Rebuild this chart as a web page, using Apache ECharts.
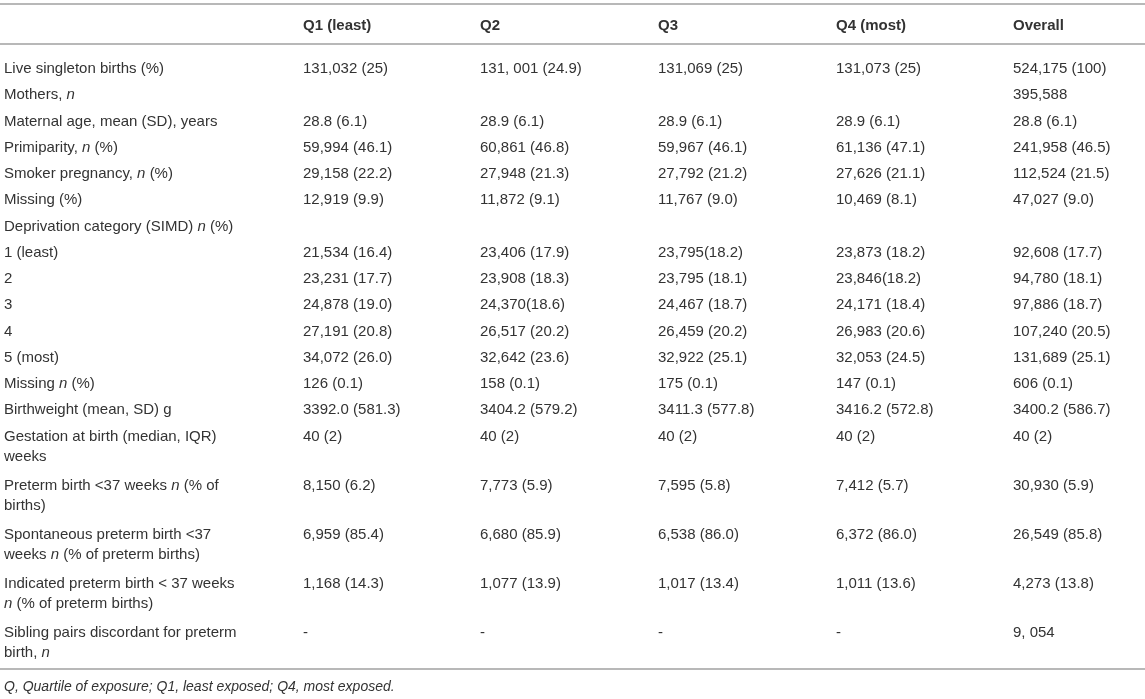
<!DOCTYPE html>
<html>
<head>
<meta charset="utf-8">
<script src="https://cdn.jsdelivr.net/npm/echarts@6/dist/echarts.min.js"></script>
<style>
  html, body { margin: 0; padding: 0; background: #fff; }
  #chart { width: 1145px; height: 699px; }
</style>
</head>
<body>
<div id="chart"></div>
<script>
// table content
const headers = ["", "Q1 (least)", "Q2", "Q3", "Q4 (most)", "Overall"];

const rowLabels = [
  "Live singleton births (%)",
  "Mothers, {it|n}",
  "Maternal age, mean (SD), years",
  "Primiparity, {it|n} (%)",
  "Smoker pregnancy, {it|n} (%)",
  "Missing (%)",
  "Deprivation category (SIMD) {it|n} (%)",
  "1 (least)",
  "2",
  "3",
  "4",
  "5 (most)",
  "Missing {it|n} (%)",
  "Birthweight (mean, SD) g",
  "Gestation at birth (median, IQR)\nweeks",
  "Preterm birth <37 weeks {it|n} (% of\nbirths)",
  "Spontaneous preterm birth <37\nweeks {it|n} (% of preterm births)",
  "Indicated preterm birth < 37 weeks\n{it|n} (% of preterm births)",
  "Sibling pairs discordant for preterm\nbirth, {it|n}"
];

const q1 = ["131,032 (25)", "", "28.8 (6.1)", "59,994 (46.1)", "29,158 (22.2)", "12,919 (9.9)", "",
  "21,534 (16.4)", "23,231 (17.7)", "24,878 (19.0)", "27,191 (20.8)", "34,072 (26.0)", "126 (0.1)",
  "3392.0 (581.3)", "40 (2)", "8,150 (6.2)", "6,959 (85.4)", "1,168 (14.3)", "-"];
const q2 = ["131, 001 (24.9)", "", "28.9 (6.1)", "60,861 (46.8)", "27,948 (21.3)", "11,872 (9.1)", "",
  "23,406 (17.9)", "23,908 (18.3)", "24,370(18.6)", "26,517 (20.2)", "32,642 (23.6)", "158 (0.1)",
  "3404.2 (579.2)", "40 (2)", "7,773 (5.9)", "6,680 (85.9)", "1,077 (13.9)", "-"];
const q3 = ["131,069 (25)", "", "28.9 (6.1)", "59,967 (46.1)", "27,792 (21.2)", "11,767 (9.0)", "",
  "23,795(18.2)", "23,795 (18.1)", "24,467 (18.7)", "26,459 (20.2)", "32,922 (25.1)", "175 (0.1)",
  "3411.3 (577.8)", "40 (2)", "7,595 (5.8)", "6,538 (86.0)", "1,017 (13.4)", "-"];
const q4 = ["131,073 (25)", "", "28.9 (6.1)", "61,136 (47.1)", "27,626 (21.1)", "10,469 (8.1)", "",
  "23,873 (18.2)", "23,846(18.2)", "24,171 (18.4)", "26,983 (20.6)", "32,053 (24.5)", "147 (0.1)",
  "3416.2 (572.8)", "40 (2)", "7,412 (5.7)", "6,372 (86.0)", "1,011 (13.6)", "-"];
const overall = ["524,175 (100)", "395,588", "28.8 (6.1)", "241,958 (46.5)", "112,524 (21.5)", "47,027 (9.0)", "",
  "92,608 (17.7)", "94,780 (18.1)", "97,886 (18.7)", "107,240 (20.5)", "131,689 (25.1)", "606 (0.1)",
  "3400.2 (586.7)", "40 (2)", "30,930 (5.9)", "26,549 (85.8)", "4,273 (13.8)", "9, 054"];

const footnote = "Q, Quartile of exposure; Q1, least exposed; Q4, most exposed.";

// layout (pixels)
const colX = [4, 303, 480, 658, 836, 1013];
const headerY = 26;
const firstRowY = 69;
const singleRowH = 26.25;
const doubleRowH = 49.2;
const lineH = 20;
const ruleY = [4, 44, 669];
const footY = 689;
const fontFamily = "'Liberation Sans', Arial, Helvetica, sans-serif";
const fontSize = 15;
const textColor = "#333";

const columns = [rowLabels, q1, q2, q3, q4, overall];

// y centre of each row's first line
const rowY = [];
let cursor = firstRowY;
rowLabels.forEach(label => {
  rowY.push(cursor);
  cursor += label.indexOf("\n") >= 0 ? doubleRowH : singleRowH;
});

// cells: [col, row, text]; row -1 is the header
const cells = [];
headers.forEach((h, c) => {
  if (h) cells.push([c, -1, h]);
});
columns.forEach((col, c) => {
  col.forEach((txt, r) => {
    if (txt) cells.push([c, r, txt]);
  });
});

const chart = echarts.init(document.getElementById("chart"));

const option = {
  backgroundColor: "#fff",
  animation: false,
  grid: { left: 0, right: 0, top: 0, bottom: 0 },
  xAxis: { type: "value", min: 0, max: 1145, show: false },
  yAxis: { type: "value", min: 0, max: 699, inverse: true, show: false },
  series: [
    {
      type: "custom",
      silent: true,
      data: ruleY.map(y => [y]),
      renderItem: (params, api) => {
        const y = api.value(0);
        const p0 = api.coord([0, y]);
        const p1 = api.coord([1145, y]);
        return {
          type: "line",
          shape: { x1: p0[0], y1: p0[1], x2: p1[0], y2: p1[1] },
          style: { stroke: "#b8b8b8", lineWidth: 2 }
        };
      }
    },
    {
      type: "custom",
      silent: true,
      data: cells,
      renderItem: (params, api) => {
        const c = api.value(0);
        const r = api.value(1);
        const txt = cells[params.dataIndex][2];
        const yCentre = r < 0 ? headerY : rowY[r];
        const p = api.coord([colX[c], yCentre - lineH / 2]);
        return {
          type: "text",
          x: p[0],
          y: p[1],
          style: {
            text: txt,
            fill: textColor,
            fontSize: fontSize,
            fontWeight: r < 0 ? "bold" : "normal",
            fontFamily: fontFamily,
            lineHeight: lineH,
            align: "left",
            verticalAlign: "top",
            rich: {
              it: {
                fontStyle: "italic",
                fontSize: fontSize,
                fontFamily: fontFamily,
                fill: textColor,
                lineHeight: lineH
              }
            }
          }
        };
      }
    }
  ],
  graphic: [
    {
      type: "text",
      left: colX[0],
      top: footY - 9,
      style: {
        text: footnote,
        fill: textColor,
        font: "italic 14px " + fontFamily
      }
    }
  ]
};

chart.setOption(option);
</script>
</body>
</html>
